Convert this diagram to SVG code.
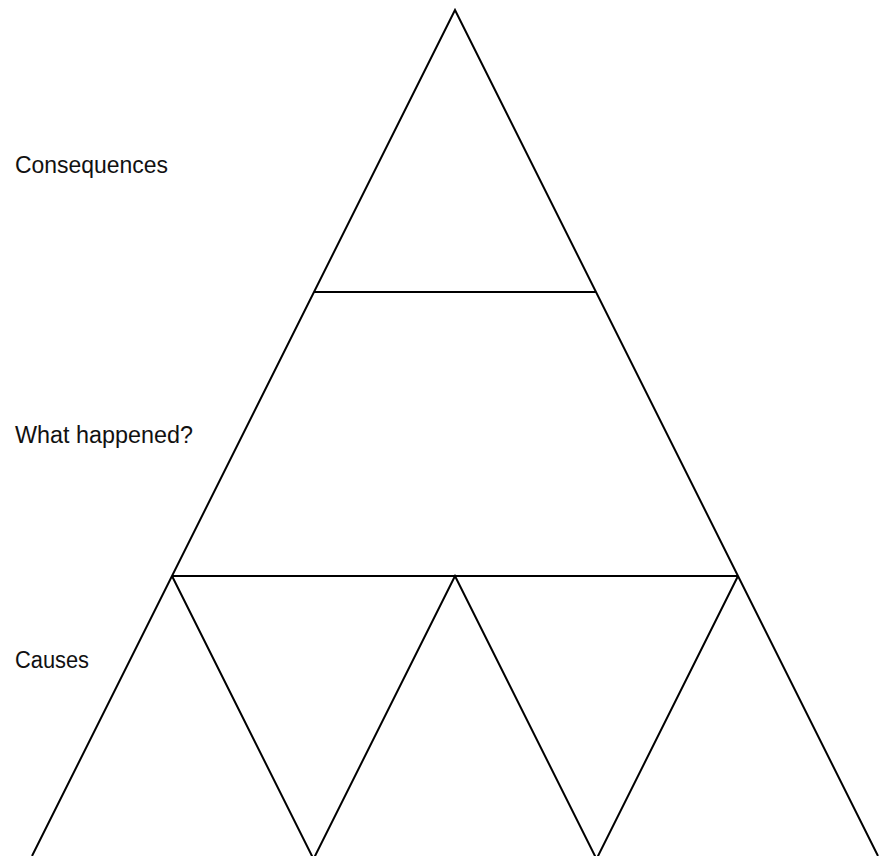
<svg xmlns="http://www.w3.org/2000/svg" width="881" height="856" viewBox="0 0 881 856">
<style>
.l{stroke:#000;stroke-width:2;fill:none;stroke-linecap:butt}
.t{font-family:"Liberation Sans",Arial,sans-serif;font-size:23px;fill:#111}
</style>
<rect width="881" height="856" fill="#fff"/>
<g id="connectors">
<polyline class="l" points="32,856 455,10 878,856"/>
<line class="l" x1="314" y1="292" x2="596" y2="292"/>
<line class="l" x1="172" y1="576" x2="738" y2="576"/>
<polyline class="l" points="172,576 313.5,859 455,576 596.5,859 738,576"/>
</g>
<g id="consequences"><text class="t" x="15" y="173" textLength="153" lengthAdjust="spacingAndGlyphs">Consequences</text></g>
<g id="what-happened"><text class="t" x="15" y="443" textLength="178" lengthAdjust="spacingAndGlyphs">What happened?</text></g>
<g id="causes"><text class="t" x="15" y="668" textLength="74" lengthAdjust="spacingAndGlyphs">Causes</text></g>
</svg>
